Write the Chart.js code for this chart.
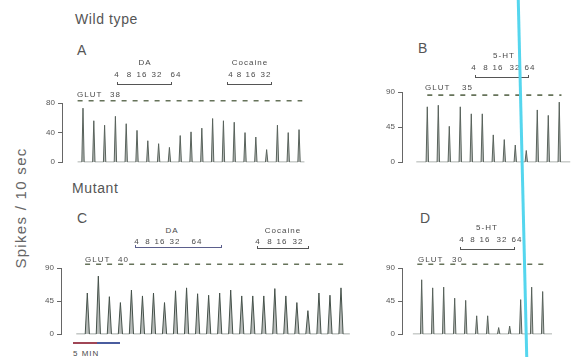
<!DOCTYPE html>
<html>
<head>
<meta charset="utf-8">
<script src="https://cdn.jsdelivr.net/npm/chart.js@4.4.1/dist/chart.umd.min.js"></script>
<style>
  body { margin: 0; background: #fff; }
  #fig { position: relative; width: 574px; height: 357px; overflow: hidden; background: #fff;
         font-family: "Liberation Sans", Arial, sans-serif; color: #555; }
  #fig canvas { position: absolute; }
  .lbl { position: absolute; line-height: 1; white-space: nowrap; }
  .big { font-size: 14px; letter-spacing: 0.6px; }
  .small { font-size: 8px; letter-spacing: 1px; color: #4a4a4a; }
  .mid { transform: translateX(-50%); }
  .bracket { position: absolute; height: 2px; border: 1px solid #555; border-top: none; }
  #ylabel { position: absolute; left: 20px; top: 208px; font-size: 15px; letter-spacing: 1.3px; color: #666;
            line-height: 1; white-space: nowrap; transform: translate(-50%, -50%) rotate(-90deg); }
  #cyan { position: absolute; left: 521px; top: 0; width: 3px; height: 357px; background: #55d6ee;
          transform: rotate(-1.36deg); z-index: 5; }
</style>
</head>
<body>
<div id="fig">
  <div class="lbl big" style="left:75px; top:12px;">Wild type</div>
  <div class="lbl big" style="left:77px; top:43px;">A</div>
  <div class="lbl big" style="left:418px; top:41px;">B</div>
  <div class="lbl big" style="left:72px; top:181px;">Mutant</div>
  <div class="lbl big" style="left:77px; top:211px;">C</div>
  <div class="lbl big" style="left:420px; top:211px;">D</div>
  <div id="ylabel">Spikes / 10 sec</div>
  <div style="position:absolute; left:73px; top:342px; width:24px; height:2px; background:#a04656;"></div>
  <div style="position:absolute; left:97px; top:342px; width:23px; height:2px; background:#4a5c9e;"></div>
  <div class="lbl small" style="left:73px; top:350px;">5 MIN</div>
  <div id="cyan"></div>
</div>
<script>
// peak firing (spikes / 10 sec) for each GLUT pulse
const wildDaCocainePeaks = [73, 56, 50, 62, 52, 43, 29, 25, 20, 36, 41, 46, 59, 56, 54, 40, 34, 17, 50, 40, 44];
const wildSerotoninPeaks = [71, 73, 46, 71, 62, 62, 35, 29, 22, 15, 67, 60, 77];
const mutantDaCocainePeaks = [56, 79, 51, 43, 60, 52, 56, 43, 59, 63, 55, 53, 56, 60, 52, 52, 52, 62, 52, 43, 32, 56, 53, 63];
const mutantSerotoninPeaks = [74, 63, 64, 49, 46, 25, 25, 9, 11, 47, 64, 58];

const glutDoses = ['38', '35', '40', '30'];
const glutLineLevels = [83, 86, 95, 95];
const yTicksWild = [0, 40, 80];
const yTicks = [0, 45, 90];
const daDoses = ['4', '8', '16', '32', '64'];
const cocaineDoses = ['4', '8', '16', '32'];
const serotoninDoses = ['4', '8', '16', '32', '64'];

Chart.defaults.font.family = '"Liberation Sans", Arial, sans-serif';

const fig = document.getElementById('fig');

const panels = [
  { peaks: wildDaCocainePeaks, ticks: yTicksWild, glut: 0, color: '#59635c', half: 0.11,
    box: [32, 90, 288, 80], pad: { top: 13, bottom: 7.5, left: 0, right: 12 },
    xRange: [-0.944, 21.83], trace: [0.5, 21.5], dash: [0.5, 21.3], glutPos: [77, 110, 91] },
  { peaks: wildSerotoninPeaks, ticks: yTicks, glut: 1, color: '#59635c', half: 0.11,
    box: [372, 78, 202, 92], pad: { top: 14, bottom: 7, left: 0, right: 0 },
    xRange: [-1.3, 14.34], trace: [0, 14], dash: [1, 13.2], glutPos: [425, 462, 84] },
  { peaks: mutantDaCocainePeaks, ticks: yTicks, glut: 2, color: '#46524b', half: 0.19,
    box: [31, 254, 324, 88], pad: { top: 14, bottom: 7.5, left: 0, right: 0 },
    xRange: [-1.385, 25.27], trace: [0, 24.8], dash: [0.8, 24.2], glutPos: [85, 118, 256] },
  { peaks: mutantSerotoninPeaks, ticks: yTicks, glut: 3, color: '#59635c', half: 0.11,
    box: [372, 254, 202, 88], pad: { top: 14, bottom: 7, left: 0, right: 0 },
    xRange: [-0.79, 14.85], trace: [0.2, 12.85], dash: [0.6, 12.4], glutPos: [418, 452, 256] },
];

const doseGroups = [
  { name: 'DA', doses: daDoses, nameX: 145, nameTop: 59, numTop: 71, numX: [117, 129.5, 142, 157, 176], bracket: [117, 170, 85] },
  { name: 'Cocaine', doses: cocaineDoses, nameX: 250, nameTop: 59, numTop: 71, numX: [231, 239.5, 251, 266], bracket: [227, 270, 85] },
  { name: '5-HT', doses: serotoninDoses, nameX: 504, nameTop: 52, numTop: 64, numX: [474, 486, 498, 515, 530], bracket: [475, 527, 78] },
  { name: 'DA', doses: daDoses, nameX: 172, nameTop: 227, numTop: 238, numX: [137, 148, 160, 175, 197], bracket: [135, 220, 248], color: '#5b5f8c' },
  { name: 'Cocaine', doses: cocaineDoses, nameX: 283, nameTop: 227, numTop: 238, numX: [258, 270, 282, 298], bracket: [257, 307, 249] },
  { name: '5-HT', doses: serotoninDoses, nameX: 487, nameTop: 224, numTop: 236, numX: [462, 473, 485, 502, 517], bracket: [460, 513, 250] },
];

function addText(text, cls, left, top) {
  const el = document.createElement('div');
  el.className = 'lbl ' + cls;
  el.textContent = text;
  el.style.left = left + 'px';
  el.style.top = top + 'px';
  fig.appendChild(el);
  return el;
}

// one baseline trace, each pulse drawn as a narrow spike up to its peak
function spikeTrace(peaks, start, end, half) {
  const pts = [{ x: start, y: 0 }];
  peaks.forEach((v, k) => {
    const i = k + 1;
    pts.push({ x: i - half, y: 0 }, { x: i, y: v }, { x: i + half, y: 0 });
  });
  pts.push({ x: end, y: 0 });
  return pts;
}

function makePanel(p) {
  const canvas = document.createElement('canvas');
  const [left, top, width, height] = p.box;
  canvas.width = width;
  canvas.height = height;
  canvas.style.left = left + 'px';
  canvas.style.top = top + 'px';
  fig.insertBefore(canvas, document.getElementById('cyan'));

  const level = glutLineLevels[p.glut];
  new Chart(canvas.getContext('2d'), {
    type: 'line',
    data: {
      datasets: [{
        data: spikeTrace(p.peaks, p.trace[0], p.trace[1], p.half),
        borderColor: p.color,
        backgroundColor: 'rgba(80, 90, 84, 0.4)',
        borderWidth: 1,
        pointRadius: 0,
        fill: 'origin',
        tension: 0,
      }, {
        data: [{ x: p.dash[0], y: level }, { x: p.dash[1], y: level }],
        borderColor: '#66735a',
        borderWidth: 1.6,
        borderDash: [5, 6],
        pointRadius: 0,
        fill: false,
        clip: false,
      }],
    },
    options: {
      responsive: false,
      animation: false,
      events: [],
      layout: { padding: p.pad },
      plugins: { legend: { display: false }, tooltip: { enabled: false } },
      scales: {
        x: { type: 'linear', display: false, min: p.xRange[0], max: p.xRange[1] },
        y: {
          min: 0,
          max: p.ticks[p.ticks.length - 1],
          afterBuildTicks: (scale) => { scale.ticks = p.ticks.map(v => ({ value: v })); },
          afterFit: (scale) => { scale.width = 30; },
          grid: { drawOnChartArea: false, drawTicks: true, tickLength: 4, color: '#666' },
          border: { color: '#666', width: 1 },
          ticks: { font: { size: 8 }, color: '#555', padding: 3 },
        },
      },
    },
  });

  const [gx, nx, gt] = p.glutPos;
  addText('GLUT', 'small', gx, gt);
  addText(glutDoses[p.glut], 'small', nx, gt);
}

panels.forEach(makePanel);

doseGroups.forEach((g) => {
  addText(g.name, 'small mid', g.nameX, g.nameTop);
  g.doses.forEach((d, k) => addText(d, 'small mid', g.numX[k], g.numTop));
  const br = document.createElement('div');
  br.className = 'bracket';
  br.style.left = g.bracket[0] + 'px';
  br.style.width = (g.bracket[1] - g.bracket[0]) + 'px';
  br.style.top = (g.bracket[2] - 3) + 'px';
  if (g.color) br.style.borderColor = g.color;
  fig.appendChild(br);
});
</script>
</body>
</html>
